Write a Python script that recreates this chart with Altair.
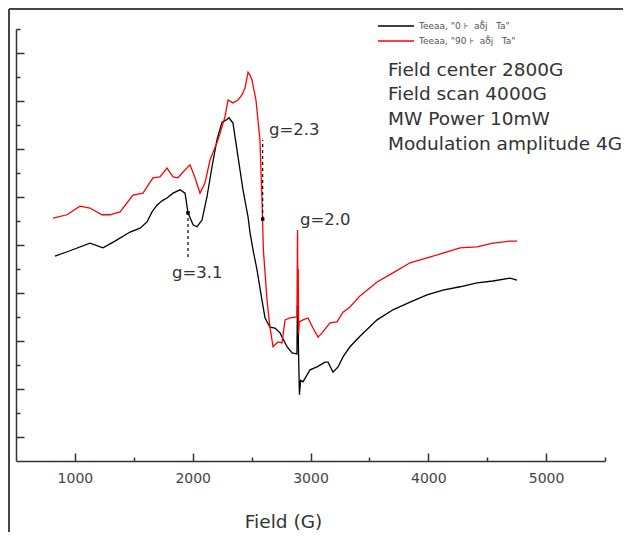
import altair as alt
import pandas as pd

# ---- data ----
black_field = [831, 958, 1128, 1239, 1340, 1468, 1553, 1612, 1655, 1697,
               1739, 1782, 1833, 1892, 1935, 1960, 2003, 2037, 2079, 2121,
               2164, 2206, 2249, 2283, 2308, 2342, 2385, 2427, 2470, 2486,
               2512, 2546, 2588, 2614, 2656, 2699, 2741, 2801, 2843, 2885,
               2889, 2892, 2895, 2898, 2906, 2916, 2936, 2996, 3055, 3123,
               3149, 3191, 3234, 3276, 3335, 3420, 3565, 3700, 3845, 3989,
               4125, 4269, 4413, 4549, 4694, 4753]
black_signal = [4.27, 4.38, 4.54, 4.44, 4.58, 4.77, 4.85, 4.98, 5.19, 5.33,
                5.42, 5.48, 5.58, 5.65, 5.58, 5.17, 4.92, 4.88, 5.02, 5.50,
                6.13, 6.69, 7.06, 7.10, 7.15, 7.04, 6.33, 5.65, 5.08, 4.77,
                4.40, 3.98, 3.35, 2.98, 2.79, 2.77, 2.67, 2.38, 2.25, 2.23,
                3.25, 2.45, 3.05, 2.30, 1.38, 1.68, 1.65, 1.90, 1.96, 2.06,
                2.06, 1.85, 1.96, 2.17, 2.38, 2.60, 2.94, 3.15, 3.31, 3.46,
                3.56, 3.63, 3.71, 3.75, 3.81, 3.77]

red_field = [814, 933, 1043, 1128, 1230, 1298, 1383, 1493, 1578, 1663,
             1722, 1782, 1833, 1875, 1918, 1977, 2020, 2062, 2104, 2147,
             2215, 2274, 2300, 2342, 2385, 2419, 2444, 2470, 2486, 2503,
             2537, 2571, 2590, 2600, 2631, 2656, 2682, 2724, 2758, 2784,
             2826, 2885, 2890, 2893, 2896, 2899, 2905, 2936, 2979, 3021,
             3064, 3098, 3166, 3225, 3276, 3335, 3420, 3565, 3700, 3845,
             3989, 4125, 4269, 4413, 4549, 4694, 4753]
red_signal = [5.06, 5.13, 5.31, 5.27, 5.13, 5.13, 5.19, 5.54, 5.58, 5.90,
              5.92, 6.10, 5.92, 5.90, 6.02, 6.17, 5.90, 5.58, 5.79, 6.27,
              6.69, 7.17, 7.52, 7.46, 7.52, 7.63, 7.77, 8.10, 8.04, 7.94,
              7.52, 6.69, 5.30, 4.40, 3.35, 2.79, 2.38, 2.48, 2.46, 2.94,
              2.98, 3.00, 4.81, 3.30, 4.00, 2.65, 2.90, 2.94, 2.98, 2.77,
              2.58, 2.67, 2.88, 2.90, 3.10, 3.21, 3.44, 3.73, 3.92, 4.13,
              4.23, 4.33, 4.44, 4.46, 4.54, 4.58, 4.58]

series_names = ['Teeaa,\u00a0"0\u00a0\u22a6\u00a0\u00a0a\u03b4\u0303j\u00a0\u00a0\u00a0Ta"',
                'Teeaa,\u00a0"90\u00a0\u22a6\u00a0\u00a0a\u03b4\u0303j\u00a0\u00a0\u00a0Ta"']
series_colors = ['#000000', '#ff0000']

x_major = [1000, 2000, 3000, 4000, 5000]
x_minor = [1500, 2500, 3500, 4500, 5500]
y_major = [0.5, 1.5, 2.5, 3.5, 4.5, 5.5, 6.5, 7.5, 8.5]
y_minor = [1, 2, 3, 4, 5, 6, 7, 8, 9]

# dashed marker lines (g=3.1, g=2.3)
marker_field = [1960, 2594]
marker_low = [4.25, 5.04]
marker_high = [5.17, 6.69]
dot_field = [1960, 2594]
dot_signal = [5.17, 5.04]

g_labels = ['g=3.1', 'g=2.3', 'g=2.0']
g_field = [1824, 2648, 2911]
g_signal = [3.81, 6.79, 4.92]

info_lines = ['Field center 2800G', 'Field scan 4000G', 'MW Power 10mW',
              'Modulation amplitude 4G']
info_field = [3658, 3658, 3658, 3658]
info_signal = [8.02, 7.52, 7.00, 6.48]

# ---- tables ----
curves = pd.concat([
    pd.DataFrame({'field': black_field, 'signal': black_signal, 'series': series_names[0]}),
    pd.DataFrame({'field': red_field, 'signal': red_signal, 'series': series_names[1]}),
])
markers = pd.DataFrame({'field': marker_field, 'low': marker_low, 'high': marker_high})
dots = pd.DataFrame({'field': dot_field, 'signal': dot_signal})
glab = pd.DataFrame({'field': g_field, 'signal': g_signal, 'label': g_labels})
info = pd.DataFrame({'field': info_field, 'signal': info_signal, 'label': info_lines})

W, H = 589, 432
FONT = 'DejaVu Sans'
AX = '#333333'
xs = alt.Scale(domain=[500, 5500], nice=False, zero=False)
ys = alt.Scale(domain=[0, 9], nice=False, zero=False)

color = alt.Color('series:N',
                  scale=alt.Scale(domain=series_names, range=series_colors),
                  legend=alt.Legend(orient='none', legendX=370, legendY=-13, title=None,
                                    symbolType='M-2,0H2', symbolSize=324,
                                    symbolStrokeWidth=1.5, labelFont=FONT,
                                    labelFontSize=9, labelColor='#555555',
                                    labelOffset=13, rowPadding=0, padding=0,
                                    labelLimit=0))

lines = alt.Chart(curves).mark_line(strokeWidth=1.3).encode(
    x=alt.X('field:Q', scale=xs,
            axis=alt.Axis(orient='bottom', values=x_major, format='d', ticks=False,
                          tickSize=0, labelPadding=10, labelFont=FONT, labelFontSize=14,
                          labelColor='#444444', labelFlush=False,
                          domainColor=AX, domainWidth=1.5, grid=False,
                          title='Field (G)', titleFont=FONT, titleFontSize=18.5,
                          titleFontWeight='normal', titleColor=AX,
                          titleX=267, titleY=66, titleBaseline='alphabetic')),
    y=alt.Y('signal:Q', scale=ys,
            axis=alt.Axis(orient='left', labels=False, ticks=False, title=None,
                          domainColor=AX, domainWidth=1.5, grid=False)),
    color=color,
)

major_ticks = alt.Chart(curves).mark_point(opacity=0).encode(
    x=alt.X('field:Q', scale=xs,
            axis=alt.Axis(orient='top', offset=-H, values=x_major, labels=False,
                          domain=False, tickSize=8, tickWidth=1.5, tickColor=AX,
                          grid=False, title=None)),
    y=alt.Y('signal:Q', scale=ys,
            axis=alt.Axis(orient='right', offset=-W, values=y_major, labels=False,
                          domain=False, tickSize=8, tickWidth=1.5, tickColor=AX,
                          grid=False, title=None)),
)

minor_ticks = alt.Chart(curves).mark_point(opacity=0).encode(
    x=alt.X('field:Q', scale=xs,
            axis=alt.Axis(orient='top', offset=-H, values=x_minor, labels=False,
                          domain=False, tickSize=4, tickWidth=1.5, tickColor=AX,
                          grid=False, title=None)),
    y=alt.Y('signal:Q', scale=ys,
            axis=alt.Axis(orient='right', offset=-W, values=y_minor, labels=False,
                          domain=False, tickSize=4, tickWidth=1.5, tickColor=AX,
                          grid=False, title=None)),
)

dashes = alt.Chart(markers).mark_rule(color='#000000', strokeWidth=1.2,
                                      strokeDash=[3, 3]).encode(
    x=alt.X('field:Q', scale=xs, axis=None),
    y=alt.Y('low:Q', scale=ys, axis=None),
    y2='high:Q',
)

dot_marks = alt.Chart(dots).mark_square(size=12, color='#000000', opacity=1).encode(
    x=alt.X('field:Q', scale=xs, axis=None),
    y=alt.Y('signal:Q', scale=ys, axis=None),
)

g_text = alt.Chart(glab).mark_text(align='left', baseline='alphabetic', font=FONT,
                                   fontSize=16.5, color=AX).encode(
    x=alt.X('field:Q', scale=xs, axis=None),
    y=alt.Y('signal:Q', scale=ys, axis=None),
    text='label:N',
)

info_text = alt.Chart(info).mark_text(align='left', baseline='alphabetic', font=FONT,
                                      fontSize=18.5, color=AX).encode(
    x=alt.X('field:Q', scale=xs, axis=None),
    y=alt.Y('signal:Q', scale=ys, axis=None),
    text='label:N',
)

# outer frame (left and top edges)
frame_left = alt.Chart(info).mark_rule(color='#444444', strokeWidth=1.5).encode(
    x=alt.value(-7), y=alt.value(-20), y2=alt.value(H + 71))
frame_top = alt.Chart(info).mark_rule(color='#444444', strokeWidth=1.5).encode(
    x=alt.value(-7), x2=alt.value(W + 18), y=alt.value(-20))

chart = alt.layer(
    frame_left, frame_top, major_ticks, minor_ticks, lines, dashes, dot_marks,
    g_text, info_text,
).resolve_axis(x='independent', y='independent').properties(
    width=W, height=H,
    padding={'left': 8, 'top': 21, 'right': 18, 'bottom': 71},
    autosize=alt.AutoSizeParams(type='none'),
    background='white',
).configure_view(strokeWidth=0)

chart.save('out.html', embed_options={'renderer': 'svg', 'actions': False})
